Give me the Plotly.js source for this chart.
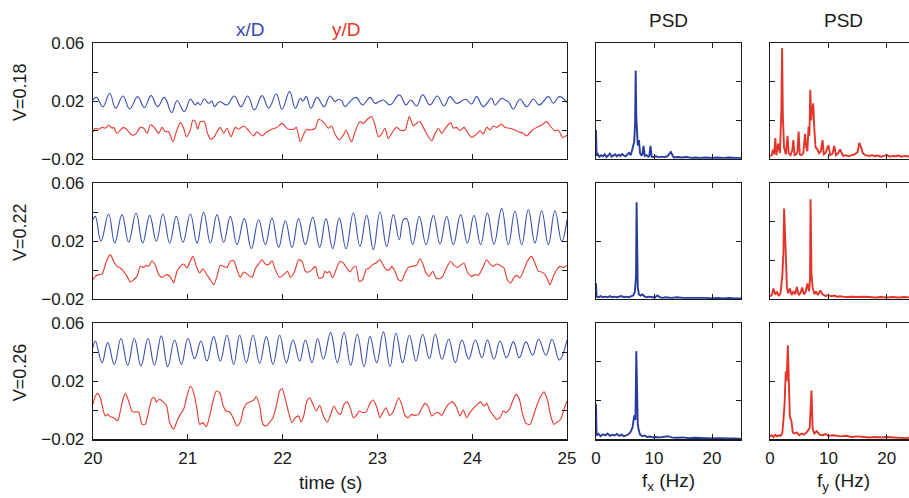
<!DOCTYPE html>
<html><head><meta charset="utf-8">
<script src="https://cdn.plot.ly/plotly-3.0.1.min.js"></script>
<style>html,body{margin:0;padding:0;overflow:hidden;background:#fff;width:909px;height:498px}</style>
</head><body><div id="chart"></div>
<script>
// ---------- time series (x/D blue, y/D red), rows V=0.18, 0.22, 0.26 ----------
const t1b = [20.000,20.035,20.105,20.176,20.239,20.316,20.387,20.471,20.541,20.612,20.682,20.752,20.830,20.886,20.963,21.027,21.079,21.104,21.132,21.174,21.220,21.255,21.280,21.336,21.413,21.491,21.561,21.632,21.702,21.783,21.853,21.934,21.994,22.074,22.134,22.187,22.215,22.250,22.299,22.363,22.437,22.500,22.553,22.588,22.623,22.658,22.711,22.774,22.845,22.922,22.975,23.020,23.063,23.133,23.231,23.302,23.351,23.414,23.477,23.555,23.632,23.702,23.766,23.836,23.931,23.994,24.047,24.117,24.205,24.240,24.311,24.346,24.381,24.434,24.504,24.574,24.645,24.708,24.803,24.856,24.919,25.000];
const v1b = [0.0207,0.0225,0.0161,0.0253,0.0150,0.0235,0.0145,0.0230,0.0154,0.0237,0.0161,0.0225,0.0120,0.0202,0.0127,0.0212,0.0173,0.0189,0.0173,0.0216,0.0184,0.0200,0.0161,0.0196,0.0173,0.0235,0.0161,0.0235,0.0138,0.0237,0.0150,0.0248,0.0143,0.0265,0.0150,0.0219,0.0200,0.0230,0.0150,0.0225,0.0161,0.0235,0.0196,0.0212,0.0202,0.0161,0.0196,0.0225,0.0173,0.0225,0.0184,0.0196,0.0207,0.0173,0.0242,0.0173,0.0207,0.0166,0.0242,0.0173,0.0235,0.0166,0.0230,0.0184,0.0212,0.0179,0.0230,0.0161,0.0219,0.0173,0.0219,0.0207,0.0196,0.0145,0.0212,0.0161,0.0212,0.0173,0.0230,0.0184,0.0230,0.0189];

const t1r = [20.000,20.025,20.060,20.095,20.130,20.165,20.200,20.218,20.253,20.288,20.323,20.359,20.411,20.447,20.499,20.534,20.570,20.605,20.640,20.693,20.728,20.763,20.798,20.844,20.879,20.921,20.956,20.985,21.020,21.055,21.079,21.104,21.132,21.174,21.203,21.238,21.273,21.308,21.343,21.378,21.413,21.456,21.501,21.537,21.589,21.642,21.695,21.730,21.783,21.835,21.888,21.941,21.994,22.029,22.064,22.117,22.145,22.187,22.222,22.257,22.292,22.345,22.380,
  22.437,22.482,22.518,22.553,22.598,22.641,22.669,22.711,22.729,22.764,22.816,22.852,22.887,22.939,22.975,23.010,23.045,23.080,23.115,23.150,23.203,23.238,23.291,23.337,23.379,23.414,23.449,23.484,23.537,23.572,23.607,23.643,23.678,23.724,23.773,23.801,23.836,23.871,23.913,23.959,23.994,24.047,24.082,24.117,24.153,24.188,24.223,24.258,24.311,24.346,24.399,24.451,24.487,24.539,24.574,24.627,24.680,24.733,24.785,24.821,24.873,24.908,24.954,25.000];
const v1r = [-0.0012,0.0012,0.0005,0.0018,0.0012,0.0035,0.0012,0.0018,-0.0023,0.0000,0.0018,0.0000,-0.0035,-0.0030,0.0018,0.0012,-0.0023,0.0035,0.0023,-0.0023,0.0018,-0.0012,-0.0012,-0.0081,-0.0012,0.0051,0.0012,-0.0046,-0.0012,0.0069,0.0058,0.0005,0.0058,0.0058,-0.0012,-0.0062,-0.0053,-0.0012,0.0018,-0.0023,0.0012,-0.0046,0.0018,0.0005,0.0028,-0.0005,-0.0041,-0.0012,-0.0041,-0.0012,0.0005,0.0018,0.0046,0.0023,0.0005,0.0005,0.0018,-0.0081,-0.0028,0.0005,0.0000,0.0012,0.0074,
  0.0051,0.0012,0.0028,-0.0030,-0.0069,-0.0035,0.0000,-0.0064,-0.0081,-0.0012,0.0058,0.0046,0.0069,0.0092,0.0035,-0.0046,-0.0028,0.0012,-0.0058,-0.0023,0.0018,0.0000,0.0000,0.0092,0.0028,0.0046,0.0058,0.0018,-0.0046,-0.0074,-0.0028,0.0012,-0.0023,0.0018,0.0051,0.0012,0.0018,-0.0005,0.0018,-0.0023,-0.0051,-0.0028,-0.0005,-0.0028,0.0018,0.0000,0.0028,0.0018,0.0041,0.0018,0.0012,0.0000,-0.0012,-0.0023,-0.0041,-0.0005,0.0018,0.0035,0.0058,0.0028,-0.0005,0.0000,-0.0051,-0.0035];

const t2b = [20.000,20.025,20.084,20.165,20.229,20.306,20.376,20.454,20.524,20.598,20.668,20.738,20.809,20.879,20.949,21.027,21.097,21.167,21.238,21.308,21.378,21.449,21.519,21.596,21.670,21.747,21.818,21.888,21.958,22.029,22.099,22.169,22.240,22.317,22.391,
  22.458,22.528,22.598,22.669,22.746,22.816,22.887,22.957,23.027,23.098,23.168,23.231,23.274,23.309,23.372,23.442,23.513,23.590,23.660,23.731,23.801,23.878,23.949,24.019,24.089,24.160,24.230,24.311,24.381,24.451,24.522,24.592,24.662,24.733,24.803,24.873,24.944,25.000];
const v2b = [0.0347,0.0370,0.0198,0.0386,0.0186,0.0382,0.0193,0.0393,0.0186,0.0377,0.0198,0.0386,0.0186,0.0370,0.0191,0.0386,0.0186,0.0398,0.0186,0.0382,0.0191,0.0370,0.0175,0.0354,0.0147,0.0347,0.0175,0.0359,0.0156,0.0340,0.0156,0.0354,0.0175,0.0363,0.0156,
  0.0354,0.0147,0.0359,0.0147,0.0393,0.0163,0.0377,0.0140,0.0400,0.0163,0.0382,0.0209,0.0347,0.0354,0.0175,0.0370,0.0175,0.0377,0.0179,0.0370,0.0175,0.0382,0.0186,0.0377,0.0175,0.0393,0.0179,0.0423,0.0175,0.0405,0.0175,0.0416,0.0186,0.0409,0.0175,0.0409,0.0198,0.0347];

const t2r = [20.000,20.025,20.060,20.095,20.120,20.148,20.183,20.218,20.253,20.288,20.323,20.359,20.394,20.429,20.464,20.499,20.534,20.563,20.587,20.622,20.658,20.693,20.728,20.763,20.788,20.823,20.851,20.886,20.921,20.956,20.992,21.027,21.055,21.090,21.125,21.160,21.195,21.238,21.273,21.308,21.343,21.378,21.413,21.449,21.484,21.519,21.554,21.589,21.624,21.677,21.712,21.747,21.783,21.818,21.853,21.888,21.923,21.969,22.011,22.053,22.081,22.124,22.169,22.205,22.240,22.275,22.310,22.345,22.380,
  22.423,22.447,22.472,22.493,22.528,22.570,22.605,22.641,22.676,22.711,22.746,22.774,22.809,22.845,22.880,22.915,22.950,22.985,23.027,23.063,23.091,23.126,23.150,23.186,23.221,23.256,23.291,23.326,23.361,23.414,23.449,23.477,23.513,23.548,23.583,23.618,23.653,23.688,23.724,23.773,23.808,23.843,23.878,23.913,23.949,23.994,24.029,24.065,24.110,24.153,24.188,24.223,24.258,24.293,24.335,24.370,24.406,24.441,24.469,24.504,24.546,24.581,24.627,24.662,24.698,24.733,24.768,24.803,24.821,24.856,24.891,24.926,24.961,25.000];
const v2r = [-0.0067,-0.0044,-0.0032,-0.0028,0.0014,0.0071,0.0106,0.0060,0.0025,0.0014,-0.0009,-0.0044,-0.0083,-0.0067,-0.0044,0.0025,0.0018,0.0032,0.0025,0.0064,0.0032,-0.0032,-0.0051,-0.0037,-0.0032,-0.0055,-0.0090,-0.0009,0.0025,0.0041,0.0014,0.0064,0.0094,0.0025,-0.0021,0.0009,-0.0028,-0.0067,-0.0101,-0.0044,0.0032,0.0025,0.0018,0.0060,0.0064,0.0002,-0.0051,-0.0014,-0.0028,-0.0051,0.0009,0.0041,0.0071,0.0041,0.0037,0.0064,0.0002,-0.0051,-0.0032,-0.0009,-0.0051,-0.0014,0.0071,0.0060,-0.0009,-0.0014,0.0002,0.0025,-0.0055,
  -0.0051,-0.0009,-0.0021,-0.0009,-0.0055,0.0014,0.0060,0.0048,0.0014,-0.0014,0.0018,0.0025,-0.0078,-0.0067,0.0002,0.0014,0.0037,0.0048,0.0071,0.0032,0.0002,0.0002,0.0025,-0.0009,-0.0067,-0.0074,-0.0021,0.0018,0.0025,0.0032,0.0078,0.0048,-0.0021,-0.0044,-0.0009,-0.0055,-0.0060,-0.0044,0.0009,0.0060,0.0032,0.0018,0.0032,0.0048,-0.0014,-0.0044,-0.0032,-0.0037,0.0014,0.0071,0.0041,0.0025,0.0041,0.0032,0.0014,-0.0067,-0.0090,-0.0051,-0.0037,-0.0055,0.0002,0.0060,0.0094,0.0048,-0.0009,-0.0014,-0.0032,-0.0078,-0.0101,-0.0044,0.0002,0.0025,0.0018,0.0032];

const t3b = [20.000,20.025,20.095,20.155,20.225,20.295,20.366,20.436,20.506,20.580,20.647,20.721,20.788,20.861,20.932,21.002,21.072,21.139,21.202,21.273,21.343,21.413,21.484,21.547,21.617,21.688,21.758,21.828,21.899,21.969,22.039,22.110,22.180,22.240,22.310,22.370,
  22.430,22.507,22.577,22.648,22.718,22.788,22.859,22.922,22.992,23.063,23.133,23.196,23.266,23.337,23.407,23.477,23.548,23.611,23.681,23.752,23.822,23.892,23.963,24.033,24.103,24.160,24.230,24.293,24.363,24.434,24.497,24.567,24.638,24.701,24.778,24.842,24.919,25.000];
const v3b = [0.0432,0.0478,0.0329,0.0467,0.0317,0.0495,0.0311,0.0495,0.0306,0.0495,0.0311,0.0513,0.0301,0.0485,0.0317,0.0495,0.0357,0.0478,0.0340,0.0508,0.0340,0.0518,0.0317,0.0518,0.0329,0.0518,0.0324,0.0508,0.0317,0.0518,0.0329,0.0485,0.0340,0.0485,0.0329,0.0495,
  0.0352,0.0536,0.0329,0.0536,0.0311,0.0524,0.0301,0.0508,0.0329,0.0541,0.0301,0.0531,0.0329,0.0518,0.0340,0.0524,0.0357,0.0524,0.0352,0.0490,0.0329,0.0485,0.0352,0.0485,0.0363,0.0485,0.0352,0.0478,0.0363,0.0472,0.0363,0.0472,0.0380,0.0490,0.0380,0.0490,0.0347,0.0485];

const t3r = [20.000,20.025,20.049,20.077,20.105,20.130,20.155,20.183,20.218,20.260,20.288,20.316,20.341,20.376,20.411,20.447,20.482,20.517,20.552,20.587,20.622,20.647,20.668,20.703,20.738,20.774,20.809,20.851,20.886,20.921,20.956,20.992,21.027,21.062,21.097,21.125,21.160,21.195,21.231,21.266,21.301,21.336,21.371,21.406,21.442,21.477,21.519,21.554,21.589,21.624,21.660,21.695,21.723,21.758,21.793,21.828,21.864,21.899,21.934,21.969,21.994,22.029,22.064,22.099,22.134,22.169,22.194,22.222,22.257,22.285,22.320,22.356,22.391,
  22.430,22.472,22.507,22.542,22.577,22.612,22.648,22.683,22.718,22.746,22.774,22.809,22.845,22.880,22.922,22.957,22.992,23.027,23.056,23.091,23.126,23.161,23.196,23.224,23.256,23.291,23.326,23.361,23.397,23.432,23.467,23.502,23.537,23.572,23.608,23.643,23.678,23.713,23.748,23.794,23.836,23.871,23.906,23.942,23.977,24.019,24.054,24.089,24.124,24.153,24.188,24.223,24.258,24.293,24.328,24.356,24.392,24.427,24.462,24.497,24.532,24.567,24.610,24.645,24.680,24.715,24.757,24.792,24.828,24.863,24.898,24.933,24.968,25.000];
const v3r = [0.0041,0.0099,0.0117,0.0087,0.0007,-0.0039,-0.0028,-0.0044,-0.0051,-0.0074,-0.0005,0.0076,0.0117,0.0064,-0.0005,-0.0012,-0.0012,-0.0097,-0.0097,-0.0005,0.0081,0.0087,0.0058,0.0076,0.0058,0.0035,-0.0085,-0.0131,-0.0074,-0.0028,0.0007,0.0099,0.0168,0.0122,0.0007,-0.0097,-0.0085,-0.0113,-0.0039,0.0064,0.0133,0.0122,0.0035,-0.0005,-0.0012,-0.0051,-0.0108,-0.0081,0.0012,0.0048,0.0058,0.0071,0.0094,0.0030,-0.0097,-0.0108,-0.0081,-0.0051,0.0030,0.0133,0.0150,0.0076,-0.0016,-0.0085,-0.0051,-0.0039,-0.0081,-0.0039,0.0064,0.0087,0.0041,-0.0005,0.0035,
  -0.0039,-0.0081,-0.0028,0.0030,-0.0012,-0.0028,0.0041,0.0058,0.0007,-0.0051,-0.0039,-0.0005,-0.0016,-0.0012,0.0048,0.0071,0.0025,-0.0051,-0.0016,0.0018,-0.0035,-0.0016,0.0041,0.0087,0.0041,-0.0035,-0.0051,-0.0028,-0.0035,-0.0028,0.0012,0.0048,0.0025,-0.0039,-0.0021,-0.0016,-0.0035,0.0007,0.0041,0.0058,0.0018,-0.0039,0.0002,-0.0051,-0.0016,0.0018,0.0041,0.0058,0.0030,0.0048,-0.0005,-0.0035,-0.0062,-0.0051,-0.0005,-0.0016,0.0007,0.0064,0.0110,0.0076,-0.0028,-0.0090,-0.0097,-0.0039,0.0030,0.0087,0.0127,0.0076,-0.0039,-0.0097,-0.0081,-0.0062,0.0007,0.0064];

// ---------- PSD (arbitrary units) ----------
const f1x = [0,0.1,0.3,0.6,0.9,1.2,1.5,1.8,2.1,2.4,2.7,3.0,3.3,3.6,3.9,4.2,4.5,4.8,5.1,5.4,5.7,6.0,6.2,6.4,6.6,6.75,6.84,6.95,7.05,7.2,7.4,7.6,7.8,8.0,8.2,8.4,8.7,9.0,9.2,9.4,9.6,9.9,10.3,10.8,11.3,11.8,12.3,12.9,13.4,14,14.8,15.6,16.4,17.2,18,19,20,21,22,23,24,25];
const p1x = [0.75,0.08,0.13,0.06,0.1,0.07,0.12,0.05,0.09,0.14,0.06,0.1,0.12,0.07,0.11,0.08,0.13,0.09,0.07,0.12,0.16,0.1,0.2,0.3,0.45,1.0,2.29,1.1,0.8,0.35,0.49,0.15,0.1,0.12,0.34,0.08,0.1,0.06,0.08,0.34,0.06,0.05,0.07,0.05,0.06,0.05,0.07,0.18,0.04,0.05,0.04,0.05,0.03,0.04,0.03,0.04,0.03,0.04,0.03,0.04,0.03,0.03];
const f1y = [0,0.3,0.5,0.7,0.92,1.1,1.4,1.7,1.95,2.07,2.2,2.4,2.7,3.0,3.2,3.5,3.8,4.0,4.2,4.5,4.7,4.9,5.1,5.4,5.7,6.0,6.2,6.4,6.6,6.75,6.9,7.05,7.2,7.4,7.6,7.8,8.1,8.4,8.7,9.0,9.2,9.5,10.0,10.3,10.7,11.0,11.3,11.7,12.0,12.5,13,13.5,14,14.5,15,15.3,15.6,15.9,16.3,17,17.5,18,18.5,19,19.5,20,20.5,21,21.5,22,22.5,23,23.5,24];
const p1y = [0.08,0.1,0.24,0.12,0.54,0.1,0.4,0.15,1.29,2.87,1.14,0.3,0.12,0.6,0.15,0.1,0.22,0.49,0.1,0.12,0.2,0.71,0.12,0.1,0.15,0.65,0.3,0.2,0.84,0.6,1.79,1.0,1.27,1.44,0.75,0.3,0.25,0.15,0.2,0.49,0.12,0.15,0.36,0.1,0.13,0.34,0.1,0.15,0.25,0.08,0.1,0.07,0.1,0.12,0.18,0.42,0.3,0.15,0.1,0.08,0.1,0.07,0.09,0.06,0.08,0.1,0.06,0.08,0.07,0.09,0.06,0.08,0.07,0.06];
const f2x = [0,0.1,0.4,0.8,1.2,1.6,2.0,2.4,2.8,3.2,3.6,4.0,4.4,4.8,5.2,5.6,6.0,6.4,6.7,6.9,7.0,7.1,7.2,7.4,7.7,8.0,8.3,8.7,9.2,9.7,10.2,10.6,11.0,11.5,12,13,14,15,16,17,18,19,20,21,22,23,24,25];
const p2x = [0.27,0.04,0.03,0.05,0.03,0.04,0.03,0.05,0.03,0.04,0.03,0.04,0.05,0.03,0.04,0.03,0.05,0.06,0.12,0.4,1.67,0.76,0.2,0.08,0.06,0.08,0.05,0.03,0.04,0.03,0.03,0.06,0.03,0.02,0.03,0.02,0.03,0.02,0.02,0.03,0.02,0.02,0.01,0.02,0.01,0.02,0.01,0.01];
const f2y = [0,0.3,0.6,0.9,1.2,1.5,1.8,2.1,2.3,2.41,2.55,2.7,2.9,3.1,3.4,3.7,4.0,4.3,4.6,4.9,5.2,5.5,5.8,6.1,6.4,6.7,6.85,6.95,7.1,7.3,7.6,7.9,8.2,8.6,9.0,9.5,10,10.5,11,11.5,12,13,14,15,16,17,18,19,20,21,22,23,24];
const p2y = [0.07,0.1,0.27,0.12,0.18,0.08,0.15,0.58,1.2,2.34,1.8,0.84,0.3,0.15,0.27,0.1,0.2,0.12,0.31,0.1,0.15,0.3,0.12,0.18,0.4,0.2,0.5,2.58,0.66,0.3,0.12,0.2,0.1,0.22,0.12,0.08,0.1,0.07,0.09,0.06,0.07,0.05,0.06,0.05,0.06,0.05,0.04,0.05,0.04,0.05,0.04,0.05,0.04];
const f3x = [0,0.1,0.4,0.8,1.2,1.6,2.0,2.4,2.8,3.2,3.6,4.0,4.4,4.8,5.2,5.6,6.0,6.3,6.6,6.8,6.95,7.05,7.2,7.35,7.6,8.0,8.4,8.8,9.3,9.8,10.3,11,11.7,12.4,13,14,15,16,17,18,19,20,21,22,23,24,25];
const p3x = [0.92,0.1,0.14,0.08,0.13,0.1,0.15,0.09,0.12,0.1,0.14,0.09,0.12,0.08,0.1,0.13,0.2,0.31,0.62,0.5,2.28,1.0,0.4,0.25,0.12,0.08,0.1,0.06,0.07,0.05,0.06,0.05,0.07,0.08,0.05,0.04,0.05,0.03,0.04,0.03,0.03,0.02,0.03,0.02,0.02,0.02,0.01];
const f3y = [0,0.3,0.6,0.9,1.2,1.5,1.8,2.1,2.3,2.5,2.7,2.85,3.05,3.2,3.4,3.65,3.9,4.2,4.6,5.0,5.4,5.8,6.2,6.5,6.8,7.1,7.3,7.6,8.0,8.5,9,9.5,10,11,12,13,14,15,16,17,18,19,20,21,22,23,24];
const p3y = [0.05,0.07,0.04,0.08,0.05,0.07,0.06,0.1,0.33,0.62,1.17,1.0,1.62,0.79,0.38,0.33,0.12,0.1,0.12,0.07,0.1,0.08,0.11,0.15,0.2,0.84,0.18,0.1,0.14,0.08,0.07,0.09,0.06,0.07,0.05,0.06,0.04,0.05,0.04,0.03,0.04,0.03,0.04,0.03,0.03,0.02,0.03];

const rowLabels = ['V=0.18','V=0.22','V=0.26'];
const timeTicks = [20,21,22,23,24,25];
const dispTicks = [-0.02,0.02,0.06];
const dispTickText = ['\u22120.02','0.02','0.06'];
const freqTicks = [0,10,20];

// ---------- layout geometry ----------
const W = 920, H = 498;
const colPx = [[93,567],[596,741],[770,916]];
const rowPx = [[43,159],[183,299],[323.3,439.3]];
const xd = c => [colPx[c][0]/W, colPx[c][1]/W];
const yd = r => [1 - rowPx[r][1]/H, 1 - rowPx[r][0]/H];

const BLUE = '#3a4db2', RED = '#e8392e', PBLUE = '#273c9c', PRED = '#e3342a';
const INK = '#1a1a1a';

const series = [
  [[t1b,v1b],[t1r,v1r],[f1x,p1x],[f1y,p1y],3,3],
  [[t2b,v2b],[t2r,v2r],[f2x,p2x],[f2y,p2y],2,3],
  [[t3b,v3b],[t3r,v3r],[f3x,p3x],[f3y,p3y],3,2]
];

const traces = [];
const layout = {
  width: W, height: H, margin:{l:0,r:0,t:0,b:0,pad:0},
  paper_bgcolor:'#fff', plot_bgcolor:'#fff', showlegend:false,
  font:{family:'"Liberation Sans", Arial, Helvetica, sans-serif', color:INK, size:17},
  annotations: []
};
const base = {showline:true, mirror:'allticks', linecolor:INK, linewidth:1.3, ticks:'inside', ticklen:5, tickwidth:1, tickcolor:INK, showgrid:false, zeroline:false, fixedrange:true, tickfont:{size:17, color:INK}};

for (let r = 0; r < 3; r++) {
  const s = series[r];
  for (let c = 0; c < 3; c++) {
    const n = r*3 + c + 1;
    const xn = n === 1 ? 'x' : 'x'+n, yn = n === 1 ? 'y' : 'y'+n;
    const xk = n === 1 ? 'xaxis' : 'xaxis'+n, yk = n === 1 ? 'yaxis' : 'yaxis'+n;
    const last = r === 2;
    if (c === 0) {
      layout[xk] = Object.assign({}, base, {domain:xd(0), anchor:yn, range:[20,25], tickmode:'array', tickvals:timeTicks, showticklabels:last, ticklabelstandoff:3});
      layout[yk] = Object.assign({}, base, {domain:yd(r), anchor:xn, range:[-0.02,0.06], tickmode:'array', tickvals:dispTicks, ticktext:dispTickText, ticklabelstandoff:4,
        minor:{tick0:0, dtick:0.02, ticks:'inside', ticklen:5, tickcolor:INK, tickwidth:1, showgrid:false}});
      traces.push({x:s[0][0], y:s[0][1], xaxis:xn, yaxis:yn, type:'scatter', mode:'lines', line:{color:BLUE, width:1.1, shape:'spline', smoothing:1.2}, hoverinfo:'skip'});
      traces.push({x:s[1][0], y:s[1][1], xaxis:xn, yaxis:yn, type:'scatter', mode:'lines', line:{color:RED, width:1.1, shape:'spline', smoothing:0.7}, hoverinfo:'skip'});
    } else {
      const ymax = s[3 + c];
      const yt = ymax === 3 ? [1,2] : [1];
      layout[xk] = Object.assign({}, base, {domain:xd(c), anchor:yn, range:[0,25], tickmode:'array', tickvals:freqTicks, showticklabels:last, ticklabelstandoff:3});
      layout[yk] = Object.assign({}, base, {domain:yd(r), anchor:xn, range:[0,ymax], tickmode:'array', tickvals:yt, showticklabels:false});
      const d = c === 1 ? s[2] : s[3];
      traces.push({x:d[0], y:d[1], xaxis:xn, yaxis:yn, type:'scatter', mode:'lines', line:{color:c===1?PBLUE:PRED, width:1.9}, hoverinfo:'skip'});
    }
  }
  layout.annotations.push({text:rowLabels[r], xref:'paper', yref:'paper', x:20/W, y:1-((rowPx[r][0]+rowPx[r][1])/2 - 9)/H, textangle:-90, showarrow:false, font:{size:18, color:INK}, xanchor:'center', yanchor:'middle'});
}

const ann = (text, xp, yp, color, size) => layout.annotations.push({text, xref:'paper', yref:'paper', x:xp/W, y:1-yp/H, showarrow:false, xanchor:'center', yanchor:'middle', font:{size, color}});
ann('x/D', 251, 29, '#3548ad', 19);
ann('y/D', 346, 29, '#e8352b', 19);
ann('PSD', 668, 21, INK, 19);
ann('PSD', 843, 21, INK, 19);
ann('time (s)', 330, 482, INK, 19);
ann('f<sub>x</sub> (Hz)', 668, 482, INK, 19);
ann('f<sub>y</sub> (Hz)', 843, 482, INK, 19);

Plotly.newPlot('chart', traces, layout, {displayModeBar:false, staticPlot:true});
</script>
</body></html>
